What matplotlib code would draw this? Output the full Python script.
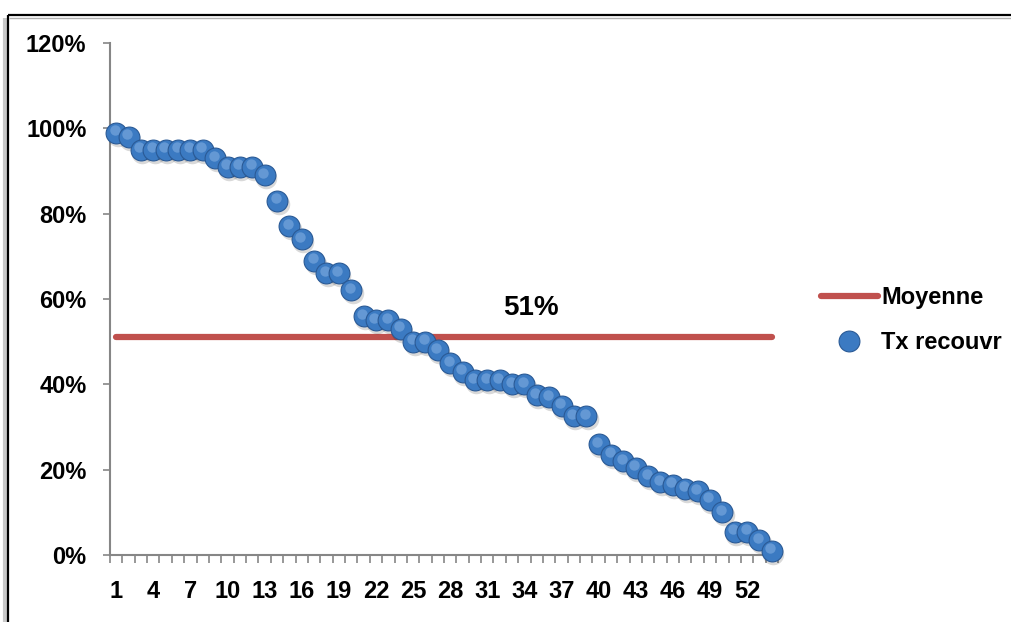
### Bibliotecas
import matplotlib
matplotlib.use('Agg')
import matplotlib.pyplot as plt
from matplotlib.lines import Line2D
from matplotlib.transforms import offset_copy

### Dados

# Taux de recouvrement par dossier (trié)
tx_recouvr = [0.99, 0.98, 0.95, 0.95, 0.95, 0.95, 0.95, 0.95, 0.93, 0.91,
              0.91, 0.91, 0.89, 0.83, 0.77, 0.74, 0.69, 0.66, 0.66, 0.62,
              0.56, 0.55, 0.55, 0.53, 0.50, 0.50, 0.48, 0.45, 0.43, 0.41,
              0.41, 0.41, 0.40, 0.40, 0.375, 0.37, 0.35, 0.325, 0.325, 0.26,
              0.235, 0.22, 0.205, 0.185, 0.17, 0.165, 0.155, 0.15, 0.13, 0.10,
              0.055, 0.055, 0.035, 0.01]
moyenne = 0.51
categories = list(range(1, len(tx_recouvr) + 1))
x_labels = categories[::3]
y_ticks = [0, 0.2, 0.4, 0.6, 0.8, 1.0, 1.2]

### Gráfico

font = 'Liberation Sans'
rouge = '#C0504D'
bleu = '#3B7AC2'
gris = '#868686'

fig = plt.figure(figsize=(10.11, 6.22), dpi=100)
ax = fig.add_axes([110 / 1011, 67 / 622, 668 / 1011, 512 / 622])

# cadre autour du graphique (bords gauche et haut seulement visibles)
W, H = 1011, 622
fig.add_artist(Line2D([5 / W, 5 / W], [0, 1 - 18 / H], color='#c8c8c8', linewidth=3,
                      solid_capstyle='butt'))
fig.add_artist(Line2D([8 / W, 8 / W], [0, 1 - 15 / H], color='black', linewidth=1.6,
                      solid_capstyle='butt'))
fig.add_artist(Line2D([8 / W, 1.01], [1 - 15 / H, 1 - 15 / H], color='black', linewidth=1.6,
                      solid_capstyle='butt'))
fig.add_artist(Line2D([9 / W, 1.01], [1 - 17.5 / H, 1 - 17.5 / H], color='#b0b0b0', linewidth=1,
                      solid_capstyle='butt'))

# ligne de moyenne
ax.plot([categories[0], categories[-1]], [moyenne, moyenne], color=rouge, linewidth=4.5,
        solid_capstyle='round', zorder=2)
ax.text(34.5, moyenne + 0.068, '{:.0%}'.format(moyenne),
        ha='center', va='center', fontsize=20, fontweight='bold', family=font)

# points avec un petit effet 3D
ombre = offset_copy(ax.transData, fig=fig, x=1.5, y=-3, units='dots')
reflet = offset_copy(ax.transData, fig=fig, x=-1.5, y=2.5, units='dots')
for i, (x, y) in enumerate(zip(categories, tx_recouvr)):
    z = 3 + i * 0.01
    ax.plot(x, y, 'o', markersize=15.5, color='black', alpha=0.15, markeredgewidth=0,
            transform=ombre, zorder=z, clip_on=False)
    ax.plot(x, y, 'o', markersize=15, color=bleu, markeredgecolor='#2A5A96',
            markeredgewidth=0.8, zorder=z + 0.002, clip_on=False)
    ax.plot(x, y, 'o', markersize=7.5, color='#8DB6E6', alpha=0.5, markeredgewidth=0,
            transform=reflet, zorder=z + 0.004, clip_on=False)

# axes
ax.set_xlim(0.5, len(categories) + 0.5)
ax.set_ylim(0, 1.2)
for s in ['top', 'right']:
    ax.spines[s].set_visible(False)
for s in ['left', 'bottom']:
    ax.spines[s].set_color(gris)
    ax.spines[s].set_linewidth(1.5)

ax.set_yticks(y_ticks)
ax.set_yticklabels(['{:.0%}'.format(v) for v in y_ticks])
ax.tick_params(axis='y', length=5, width=1.2, color=gris, pad=12)

ax.set_xticks([c - 0.5 for c in categories] + [categories[-1] + 0.5])
ax.set_xticklabels([])
ax.set_xticks(x_labels, minor=True)
ax.set_xticklabels([str(v) for v in x_labels], minor=True)
ax.tick_params(axis='x', which='major', length=6, width=1.2, color=gris)
ax.tick_params(axis='x', which='minor', length=0, pad=18)

for lab in ax.get_yticklabels() + ax.get_xticklabels(minor=True):
    lab.set_family(font)
    lab.set_fontweight('bold')
    lab.set_fontsize(17)

# légende
handles = [Line2D([], [], color=rouge, linewidth=4.5, solid_capstyle='round'),
           Line2D([], [], marker='o', linestyle='none', markersize=15, color=bleu,
                  markeredgecolor='#2A5A96', markeredgewidth=0.8)]
leg = fig.legend(handles, ['Moyenne', 'Tx recouvr'], loc='center left',
                 bbox_to_anchor=(821 / W, 302 / H), frameon=False,
                 handlelength=2.4, handletextpad=0.15, labelspacing=0.95,
                 borderpad=0, borderaxespad=0,
                 prop={'family': font, 'weight': 'bold', 'size': 17})

plt.savefig('out.png', dpi=100)
